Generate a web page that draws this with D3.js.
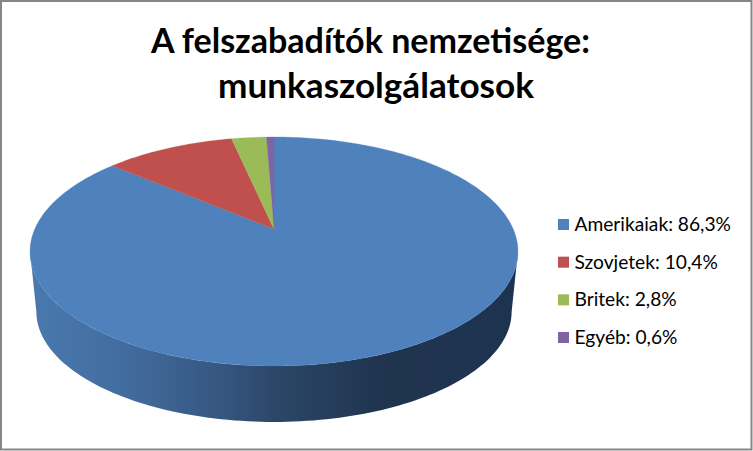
<!DOCTYPE html>
<html><head><meta charset="utf-8">
<script src="https://cdn.jsdelivr.net/npm/d3@7/dist/d3.min.js"></script>
<style>html,body{margin:0;padding:0;background:#fff}svg{display:block}text{font-family:Lato,Carlito,sans-serif}</style>
</head><body><script>
const categories = ["Amerikaiak","Szovjetek","Britek","Egyéb"];
const values = [86.3,10.4,2.8,0.6];
const valueLabels = ["86,3%","10,4%","2,8%","0,6%"];
const colors = ["#4f81bd","#c0504d","#9bbb59","#8064a2"];
const titleLines = ["A felszabadítók nemzetisége:","munkaszolgálatosok"];

const W=753,H=451;
const svg=d3.select("body").append("svg").attr("width",W).attr("height",H);
svg.append("rect").attr("x",1).attr("y",1).attr("width",W-2.5).attr("height",H-2.5)
  .attr("fill","#fff").attr("stroke","#868686").attr("stroke-width",2);

// perspective projection of a unit disc, angle 0 at top, clockwise
const k=0.1965;
const proj=(a,cx,cy,A,B)=>{const u=Math.sin(a),v=-Math.cos(a),t=1-k*v;return [cx+B*u/t,cy+A*v/t];};
const topFace=a=>proj(a,274,229,110.08,239.2);
const botFace=a=>proj(a,274,290,106,233);

const defs=svg.append("defs");
const g=defs.append("linearGradient").attr("id","side").attr("gradientUnits","userSpaceOnUse")
  .attr("x1",30).attr("x2",518).attr("y1",0).attr("y2",0);
[[0,"#4a79ae"],[0.2,"#426c9e"],[0.4,"#35557e"],[0.5,"#2c4768"],[0.72,"#20344f"],[1,"#1d3350"]]
  .forEach(s=>g.append("stop").attr("offset",s[0]).attr("stop-color",s[1]));

const line=d3.line();
const a0=Math.acos(-k), a1=2*Math.PI-a0;
const sweep=d3.range(0,121).map(i=>a0+(a1-a0)*i/120);
const side=[...sweep.map(topFace),...sweep.slice().reverse().map(botFace)];
svg.append("path").attr("d",line(side)+"Z").attr("fill","url(#side)");

const pie=d3.pie().sort(null).value(d=>d)(values);
const arcs=svg.append("g");
pie.forEach((p,i)=>{
  const n=Math.max(2,Math.ceil((p.endAngle-p.startAngle)/(Math.PI/180)));
  const pts=d3.range(n+1).map(j=>topFace(p.startAngle+(p.endAngle-p.startAngle)*j/n));
  arcs.append("path").attr("d",line([[274,229],...pts])+"Z").attr("fill",colors[i]).attr("stroke",colors[i]).attr("stroke-width",0.3);
});

const titleX=[151,218], titleLen=[439,316];
svg.append("g").selectAll("text").data(titleLines).join("text")
  .attr("x",(d,i)=>titleX[i]).attr("y",(d,i)=>53+i*45).attr("textLength",(d,i)=>titleLen[i])
  .attr("lengthAdjust","spacingAndGlyphs")
  .attr("font-size",35).attr("font-weight",700).attr("fill","#000").text(d=>d);

const rowY=d3.scalePoint().domain(categories).range([224.5,337.5]);
const leg=svg.append("g").selectAll("g").data(categories).join("g");
leg.append("rect").attr("x",558).attr("y",d=>rowY(d)-5.5).attr("width",11).attr("height",11).attr("fill",(d,i)=>colors[i]);
leg.append("text").attr("x",574.5).attr("y",d=>rowY(d)+6.5).attr("font-size",19.2).attr("fill","#000")
  .text((d,i)=>`${d}: ${valueLabels[i]}`);
</script></body></html>
